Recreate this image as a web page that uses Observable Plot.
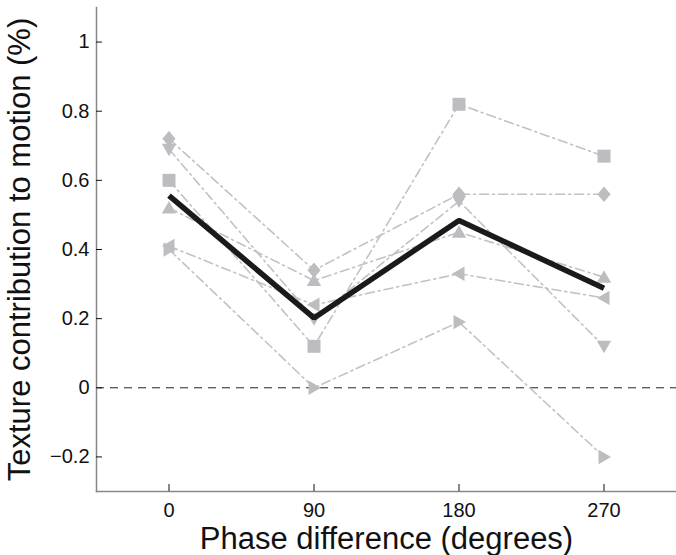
<!DOCTYPE html>
<html>
<head>
<meta charset="utf-8">
<script src="https://cdn.jsdelivr.net/npm/d3@7"></script>
<script src="https://cdn.jsdelivr.net/npm/@observablehq/plot@0.6"></script>
<style>
  html, body { margin: 0; padding: 0; background: #fff; }
  #chart svg { display: block; }
</style>
</head>
<body>
<div id="chart"></div>
<script>
// ---- data ----
const phases = [0, 90, 180, 270];
const xTicks = [0, 90, 180, 270];
const yTicks = [-0.2, 0, 0.2, 0.4, 0.6, 0.8, 1];
const seriesNames = ["right", "left", "up", "down", "square", "diamond"];
const rightTri = [0.40, 0.00, 0.19, -0.20];
const leftTri  = [0.41, 0.24, 0.33, 0.26];
const upTri    = [0.52, 0.31, 0.45, 0.32];
const downTri  = [0.69, 0.20, 0.54, 0.12];
const squareS  = [0.60, 0.12, 0.82, 0.67];
const diamondS = [0.72, 0.34, 0.56, 0.56];
const meanValues = [0.556, 0.202, 0.484, 0.288];
const xLabel = "Phase difference (degrees)";
const yLabel = "Texture contribution to motion (%)";
const zeroLine = [0];

const seriesValues = [rightTri, leftTri, upTri, downTri, squareS, diamondS];
const points = seriesNames.flatMap((s, i) =>
  phases.map((p, j) => ({series: s, phase: p, value: seriesValues[i][j]})));
const meanData = phases.map((p, j) => ({phase: p, value: meanValues[j]}));

// custom marker shapes (size = PI r^2)
function poly(pts) {
  return {
    draw(ctx, size) {
      const k = Math.sqrt(size / Math.PI) / 7;
      ctx.moveTo(pts[0][0] * k, pts[0][1] * k);
      for (let i = 1; i < pts.length; i++) ctx.lineTo(pts[i][0] * k, pts[i][1] * k);
      ctx.closePath();
    }
  };
}
const symRight = poly([[7, 0], [-5.5, -7.2], [-5.5, 7.2]]);
const symLeft = poly([[-7, 0], [5.5, -7.2], [5.5, 7.2]]);
const symUp = poly([[0, -7], [7.2, 5.5], [-7.2, 5.5]]);
const symDown = poly([[0, 7], [7.2, -5.5], [-7.2, -5.5]]);
const symSquare = poly([[-6.5, -6.5], [6.5, -6.5], [6.5, 6.5], [-6.5, 6.5]]);
const symDiamond = poly([[0, -7.8], [6.6, 0], [0, 7.8], [-6.6, 0]]);

const gray = "#bdbdc1";
const font = "'Liberation Sans', Arial, Helvetica, sans-serif";

const chart = Plot.plot({
  width: 676,
  height: 555,
  marginLeft: 96,
  marginRight: 0,
  marginTop: 7,
  marginBottom: 64,
  style: {fontFamily: font, background: "#fff"},
  x: {domain: [-45, 315]},
  y: {domain: [-0.3, 1.1]},
  symbol: {domain: seriesNames, range: [symRight, symLeft, symUp, symDown, symSquare, symDiamond]},
  marks: [
    Plot.ruleY(zeroLine, {stroke: "#222", strokeWidth: 1, strokeDasharray: "8,6"}),
    Plot.line(points, {x: "phase", y: "value", z: "series", stroke: "#c2c2c6", strokeWidth: 1.6, strokeDasharray: "9,4,2,4"}),
    Plot.dot(points, {x: "phase", y: "value", symbol: "series", fill: gray, r: 7, stroke: "none"}),
    Plot.line(meanData, {x: "phase", y: "value", stroke: "#1a1a1a", strokeWidth: 5.5, strokeLinejoin: "miter", strokeLinecap: "butt"}),
    // axes
    Plot.frame({anchor: "left", stroke: "#888", strokeWidth: 1.5}),
    Plot.frame({anchor: "bottom", stroke: "#888", strokeWidth: 1.5}),
    Plot.axisY(yTicks, {anchor: "left", tickSize: -6, tickFormat: () => "", label: null, stroke: "#111"}),
    Plot.axisY(yTicks, {anchor: "left", tickSize: 0, tickPadding: 7, tickFormat: d => d < 0 ? "\u2212" + Math.abs(d) : String(d), fontSize: 20, label: null, fill: "#111"}),
    Plot.axisX(xTicks, {anchor: "bottom", tickSize: -7, tickFormat: () => "", label: null, stroke: "#111"}),
    Plot.axisX(xTicks, {anchor: "bottom", tickSize: 0, tickPadding: 11.5, fontSize: 20, label: null, fill: "#111"}),
    Plot.text([xLabel], {frameAnchor: "bottom", text: d => d, dy: 48, fontSize: 31, fill: "#111", lineAnchor: "middle", textAnchor: "middle"}),
    Plot.text([yLabel], {frameAnchor: "left", text: d => d, dx: -76, rotate: -90, fontSize: 31, fill: "#111", lineAnchor: "middle", textAnchor: "middle"})
  ]
});
document.getElementById("chart").appendChild(chart);
</script>
</body>
</html>
